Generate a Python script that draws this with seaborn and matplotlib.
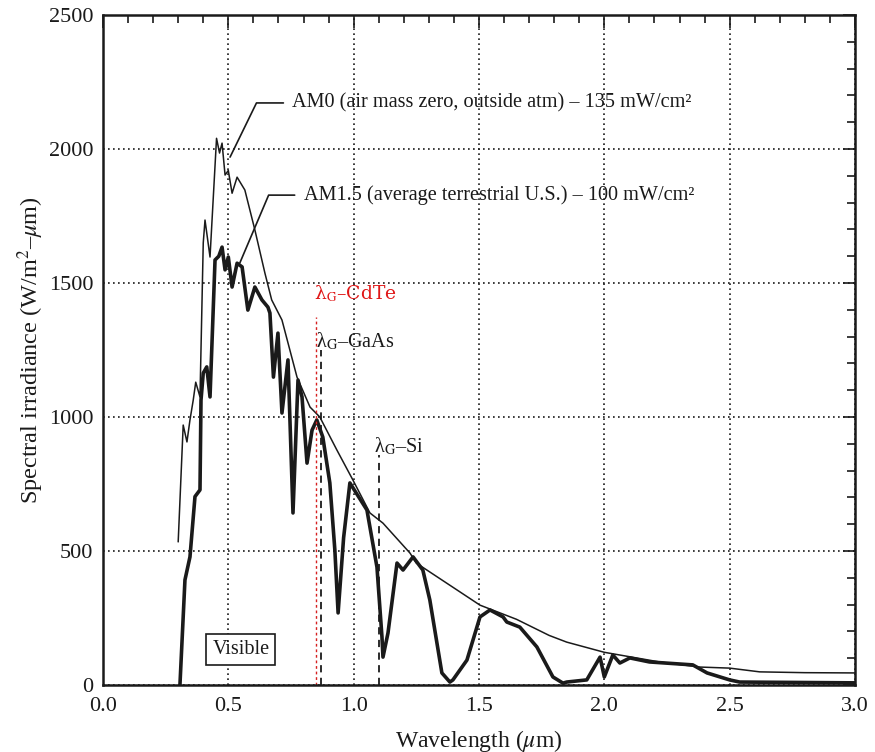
import numpy as np
import pandas as pd
import matplotlib
matplotlib.use("Agg")
import matplotlib.pyplot as plt
from matplotlib.ticker import MultipleLocator
import seaborn as sns

# ---- data ----
am0_x = [0.30, 0.32, 0.335, 0.347, 0.36, 0.37, 0.387, 0.40, 0.407, 0.427, 0.453, 0.465,
         0.475, 0.487, 0.50, 0.515, 0.535, 0.566, 0.606, 0.646, 0.673, 0.714, 0.774,
         0.826, 0.865, 0.933, 0.997, 1.065, 1.117, 1.225, 1.25, 1.504, 1.65, 1.78,
         1.85, 2.0, 2.22, 2.38, 2.5, 2.62, 2.8, 3.0]
am0_y = [534, 970, 907, 989, 1063, 1130, 1075, 1650, 1735, 1597, 2040, 1985,
         2022, 1903, 1920, 1835, 1895, 1847, 1698, 1537, 1437, 1362, 1149,
         1037, 1000, 877, 765, 642, 604, 492, 455, 298, 245, 185,
         160, 122, 86, 67, 63, 49, 46, 45]

am15_x = [0.307, 0.327, 0.347, 0.367, 0.387, 0.391, 0.40, 0.414, 0.427, 0.447, 0.462,
          0.475, 0.487, 0.50, 0.515, 0.535, 0.555, 0.578, 0.606, 0.634, 0.658, 0.666,
          0.68, 0.698, 0.714, 0.738, 0.758, 0.778, 0.794, 0.814, 0.834, 0.853, 0.877,
          0.905, 0.925, 0.938, 0.96, 0.985, 1.053, 1.093, 1.113, 1.117, 1.137, 1.173,
          1.197, 1.237, 1.276, 1.304, 1.352, 1.384, 1.396, 1.452, 1.504, 1.544, 1.596,
          1.611, 1.663, 1.731, 1.795, 1.835, 1.85, 1.93, 1.983, 2.0, 2.034, 2.062,
          2.102, 2.18, 2.353, 2.41, 2.5, 2.54, 3.0]
am15_y = [0, 392, 478, 703, 728, 1063, 1164, 1187, 1075, 1586, 1600,
          1634, 1549, 1597, 1485, 1574, 1560, 1399, 1485, 1437, 1410, 1388,
          1149, 1313, 1015, 1213, 642, 1138, 1075, 828, 951, 989, 925,
          754, 504, 269, 550, 754, 653, 440, 179, 104, 194, 455,
          429, 478, 429, 317, 45, 11, 19, 93, 254, 280, 254,
          235, 216, 142, 30, 7, 11, 19, 104, 30, 112, 82,
          101, 86, 75, 45, 19, 11, 8]

gap_names = ["GaAs", "Si"]
gap_wl = [0.87, 1.10]
gap_top = [1250, 860]
cdte_wl = 0.85
cdte_top = 1373

x_ticks = [0.0, 0.5, 1.0, 1.5, 2.0, 2.5, 3.0]
y_ticks = [0, 500, 1000, 1500, 2000, 2500]

# ---- style ----
sns.set_theme(style="white")
plt.rcParams["font.family"] = ["Liberation Serif", "DejaVu Serif"]
plt.rcParams["mathtext.fontset"] = "stix"

fig = plt.figure(figsize=(8.75, 7.52), dpi=100)
ax = fig.add_axes([0.1177, 0.0891, 0.9771 - 0.1177, 0.980 - 0.0891])

ink = "#1a1a1a"
df0 = pd.DataFrame({"x": am0_x, "y": am0_y})
df15 = pd.DataFrame({"x": am15_x, "y": am15_y})
sns.lineplot(data=df0, x="x", y="y", ax=ax, color=ink, lw=1.1, estimator=None)
sns.lineplot(data=df15, x="x", y="y", ax=ax, color=ink, lw=2.6, estimator=None)

ax.set_xlim(0, 3.0)
ax.set_ylim(0, 2500)
ax.set_xticks(x_ticks)
ax.set_yticks(y_ticks)
ax.set_xticklabels([f"{v:.1f}" for v in x_ticks])
ax.set_yticklabels([str(v) for v in y_ticks])
ax.xaxis.set_minor_locator(MultipleLocator(0.1))
ax.yaxis.set_minor_locator(MultipleLocator(100))
ax.tick_params(which="both", direction="in", top=True, right=True, colors=ink,
               labelsize=16, width=1.2)
ax.tick_params(which="major", length=9)
ax.tick_params(axis="x", which="major", pad=9)
ax.tick_params(axis="y", which="major", pad=7)
ax.tick_params(which="minor", length=6)
ax.grid(True, which="major", color=ink, linestyle=(0, (1, 2)), lw=1.2)
for s in ax.spines.values():
    s.set_color(ink)
    s.set_linewidth(1.8)

ax.set_xlabel("Wavelength ($\\mu$m)", fontsize=17, color=ink, labelpad=8)
ax.set_ylabel("Spectral irradiance (W/m$^2$–$\\mu$m)", fontsize=17.5, color=ink, labelpad=2)

# band gap markers
for name, wl, top in zip(gap_names, gap_wl, gap_top):
    ax.plot([wl, wl], [0, top], color=ink, lw=1.3, ls=(0, (4, 3)))
    ax.text(wl - 0.02, top - 10, "λ$_\\mathrm{G}$–" + name, fontsize=14.5, color=ink,
            ha="left", va="bottom")
ax.plot([cdte_wl, cdte_wl], [0, cdte_top], color="#d62020", lw=1.0, ls=(0, (2, 2)))
ax.text(cdte_wl - 0.01, cdte_top + 50, "λ$_\\mathrm{G}$–CdTe", fontsize=13.5,
        color="#e01818", family=["DejaVu Serif"], ha="left", va="bottom")

# curve labels with leaders
ax.annotate("AM0 (air mass zero, outside atm) – 135 mW/cm²", xy=(0.507, 1970),
            xytext=(0.755, 2172), fontsize=14.6, color=ink, va="center", ha="left",
            arrowprops=dict(arrowstyle="-", color=ink, lw=1.2, shrinkB=0, shrinkA=4,
                            connectionstyle="angle,angleA=0,angleB=64,rad=0"))
ax.annotate("AM1.5 (average terrestrial U.S.) – 100 mW/cm²", xy=(0.546, 1575),
            xytext=(0.80, 1828), fontsize=14.6, color=ink, va="center", ha="left",
            arrowprops=dict(arrowstyle="-", color=ink, lw=1.2, shrinkB=0, shrinkA=4,
                            connectionstyle="angle,angleA=0,angleB=67,rad=0"))

ax.text(0.55, 134, "Visible", fontsize=14.5, color=ink, ha="center", va="center",
        bbox=dict(boxstyle="square,pad=0.3", fc="white", ec=ink, lw=1.2))

fig.savefig("out.png", dpi=100)
